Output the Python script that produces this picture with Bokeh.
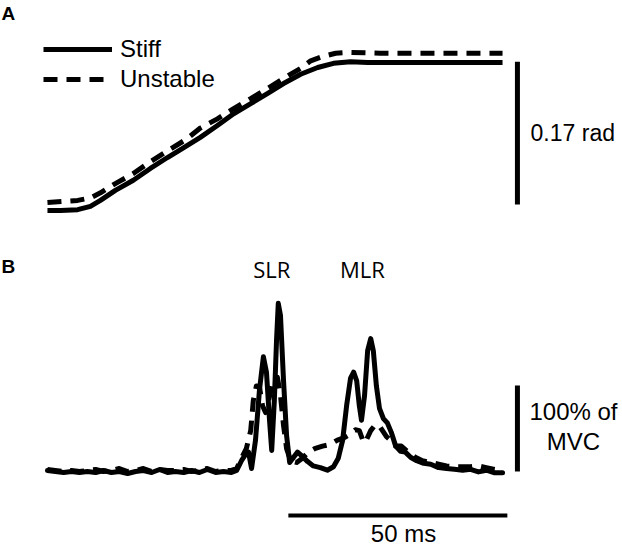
from bokeh.plotting import figure
from bokeh.models import Range1d, Label, Legend, LegendItem
from bokeh.embed import file_html
from bokeh.resources import INLINE

# ---------------- data ----------------
# Panel A: joint angle (rad) vs time (ms, 0 = perturbation onset)
t_ang_stiff = [-8.0, -5.0, -1.1, 1.8, 4.1, 7.5, 11.6, 15.5, 19.4, 23.5, 26.9, 30.8, 34.5,
               38.4, 42.2, 45.9, 49.8, 53.7, 57.3, 61.2, 65.1, 72.6, 84.0, 95.9]
ang_stiff = [0.000, 0.000, 0.001, 0.005, 0.012, 0.024, 0.036, 0.050, 0.063, 0.076, 0.087,
             0.101, 0.115, 0.127, 0.139, 0.151, 0.162, 0.170, 0.175, 0.177, 0.176, 0.176,
             0.176, 0.176]
t_ang_unst = [-8.0, -1.1, 1.8, 4.1, 7.5, 11.6, 15.5, 19.4, 23.5, 26.9, 30.8, 34.5, 38.4,
              42.2, 45.9, 49.8, 52.1, 54.8, 57.8, 61.2, 68.0, 84.0, 95.9]
ang_unst = [0.0095, 0.012, 0.015, 0.021, 0.032, 0.044, 0.058, 0.071, 0.084, 0.098, 0.109,
            0.121, 0.133, 0.145, 0.157, 0.169, 0.178, 0.183, 0.187, 0.188, 0.187, 0.187,
            0.187]

# Panel B: EMG (% MVC) vs time (ms)
t_emg_stiff = [-8.0, -6.2, -4.3, -2.5, -0.7, 1.1, 3.0, 4.8, 6.6, 8.4, 10.3, 12.1, 13.9, 15.8,
               17.6, 19.4, 21.2, 23.1, 24.9, 26.7, 28.5, 30.4, 32.2, 34.0,
               35.2, 36.3, 37.2, 37.9, 38.6, 39.5, 40.4, 41.3, 42.0, 42.7, 43.2, 43.8, 44.3,
               44.7, 45.2, 45.9, 46.6, 47.3, 48.2, 49.1, 50.2, 51.4, 52.7, 54.3, 55.9, 57.3,
               58.4, 59.4, 60.3, 61.2, 61.9, 62.6, 63.2, 63.7, 64.4, 65.1, 65.8, 66.4, 67.1,
               67.8, 68.7, 69.6, 70.5, 71.5, 72.6, 73.7, 74.9, 76.3, 77.9, 79.5, 81.3, 83.1,
               84.9, 86.8, 88.6, 90.4, 92.2, 94.1, 95.9]
emg_stiff = [4.7, 3.5, 2.3, 3.5, 2.3, 3.5, 2.3, 4.7, 2.3, 3.5, 1.2, 3.5, 4.7, 2.3,
             5.8, 2.3, 3.5, 2.3, 4.7, 2.3, 5.8, 2.3, 3.5, 2.3,
             4.7, 16, 23, 26, 7, 40, 98, 137, 119, 63, 28, 86, 156,
             199, 185, 109, 45, 14, 20, 26, 21, 15, 10, 8, 5, 9,
             19, 40, 80, 112, 119, 109, 80, 63, 92, 144, 158, 144, 103,
             77, 65, 60, 49, 33, 27, 26, 20, 16, 13, 12, 8, 7,
             6, 5, 6, 3, 5, 2, 2]
t_emg_unst = [-8.0, -6.2, -4.3, -2.5, -0.7, 1.1, 3.0, 4.8, 6.6, 8.4, 10.3, 12.1, 13.9, 15.8,
              17.6, 19.4, 21.2, 23.1, 24.9, 26.7, 28.5, 30.4, 32.2, 34.0,
              35.2, 36.3, 37.4, 38.4, 39.0, 39.7, 40.4, 41.1, 41.8, 42.5, 43.2, 43.8, 44.5,
              45.2, 45.9, 46.6, 47.5, 48.9, 50.2, 51.6, 53.0, 54.8, 56.6, 58.2, 59.8, 61.2,
              62.3, 63.2, 64.2, 64.8, 65.8, 66.7, 67.6, 68.5, 69.4, 70.3, 71.5, 72.8, 74.4,
              76.0, 77.6, 79.5, 81.3, 83.1, 84.9, 86.8, 88.6, 90.4, 92.2, 94.1, 95.9]
emg_unst = [5.8, 4.7, 3.5, 4.7, 3.5, 4.7, 5.8, 3.5, 4.7, 7.0, 3.5, 4.7, 7.0, 3.5,
            5.8, 4.7, 4.7, 5.8, 3.5, 4.7, 7.0, 3.5, 4.7, 4.7,
            7, 19, 30, 51, 86, 103, 102, 80, 72, 86, 103, 112, 113,
            92, 57, 30, 16, 14, 19, 26, 30, 33, 35, 40, 43, 47,
            52, 51, 37, 40, 51, 57, 58, 51, 44, 40, 33, 33, 26,
            20, 16, 14, 12, 10, 9, 9, 9, 10, 8, 6, 5]

# scale bars
angle_bar_t = 99.3
angle_bar = [0.007, 0.177]      # 0.17 rad
emg_bar_t = 99.3
emg_bar = [3.5, 103.5]          # 100 % MVC
time_bar = [47.0, 97.0]         # 50 ms
time_bar_level = -47.7

# ---------------- figure ----------------
p = figure(width=622, height=547, output_backend="svg", toolbar_location=None,
           x_range=Range1d(-18.721, 123.288), y_range=Range1d(-84.884, 551.163),
           x_axis_location=None, y_axis_location=None, min_border=0)
p.extra_y_ranges = {"angle": Range1d(-0.40071, 0.24970)}
p.grid.visible = False
p.outline_line_color = None
p.background_fill_color = "white"
p.border_fill_color = "white"

LW = 5
DASH = "14 9"

# Panel A
r_unst = p.line(t_ang_unst, ang_unst, y_range_name="angle", line_color="black",
                line_width=LW, line_dash=DASH, line_cap="butt")
r_stiff = p.line(t_ang_stiff, ang_stiff, y_range_name="angle", line_color="black",
                 line_width=LW, line_join="round", line_cap="butt")
p.segment(x0=[angle_bar_t], y0=[angle_bar[0]], x1=[angle_bar_t], y1=[angle_bar[1]],
          y_range_name="angle", line_color="black", line_width=5, line_cap="butt")

# Panel B
p.line(t_emg_unst, emg_unst, line_color="black", line_width=LW, line_dash=DASH,
       line_cap="butt", line_join="round")
p.line(t_emg_stiff, emg_stiff, line_color="black", line_width=LW, line_join="round",
       line_cap="round")
p.segment(x0=[emg_bar_t], y0=[emg_bar[0]], x1=[emg_bar_t], y1=[emg_bar[1]],
          line_color="black", line_width=5, line_cap="butt")
p.segment(x0=[time_bar[0]], y0=[time_bar_level], x1=[time_bar[1]], y1=[time_bar_level],
          line_color="black", line_width=4, line_cap="butt")

FONT = "Liberation Sans"

legend = Legend(items=[LegendItem(label="Stiff", renderers=[r_stiff]),
                       LegendItem(label="Unstable", renderers=[r_unst])],
                location=(43, 454), orientation="vertical",
                glyph_width=69, glyph_height=28, label_height=28, spacing=2,
                padding=0, margin=0, label_standoff=8,
                label_text_font=FONT, label_text_font_size="24px",
                label_text_color="black",
                border_line_color=None, background_fill_alpha=0)
p.add_layout(legend)

def lab(text, x, y, **kw):
    opts = dict(text_font=FONT, text_font_size="24px", text_color="black",
                text_baseline="middle")
    opts.update(kw)
    p.add_layout(Label(x=x, y=y, text=text, **opts))

lab("A", 1, 534, x_units="screen", y_units="screen", text_font_style="bold",
    text_font_size="19px")
lab("B", 1, 281.5, x_units="screen", y_units="screen", text_font_style="bold",
    text_font_size="19px")
lab("0.17 rad", 102.3, 0.0916, y_range_name="angle", text_font_size="23px")
lab("100% of", 112.1, 72.7, text_align="center")
lab("MVC", 112.1, 37.8, text_align="center")
lab("50 ms", 73.3, -68.6, text_align="center")
lab("SLR", 43.2, 239.5, text_align="center", text_font="Open Sans", text_font_size="22px")
lab("MLR", 63.9, 239.5, text_align="center", text_font="Open Sans", text_font_size="22px")

open("out.html", "w").write(file_html(p, INLINE))
